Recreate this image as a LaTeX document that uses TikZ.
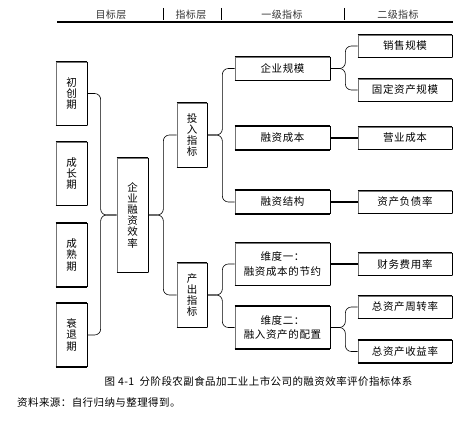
\documentclass[tikz,border=0pt]{standalone}
\usepackage{fontspec}
\setmainfont{Noto Sans CJK SC}

\begin{document}
\begin{tikzpicture}[x=1pt, y=-1pt,
    box/.style={draw=black!55, line width=0.7pt, inner sep=0pt, align=center,
      font=\fontsize{10.5}{11.2}\selectfont\addfontfeature{LetterSpace=6},
      append after command={
        (\tikzlastnode.north west) edge[line width=1.5pt, black] (\tikzlastnode.north east)
        (\tikzlastnode.south west) edge[line width=1.5pt, black] (\tikzlastnode.south east)
        (\tikzlastnode.north east) edge[line width=1pt, black] (\tikzlastnode.south east)}},
    stagebox/.style={box, minimum width=31pt, minimum height=63pt},
    tierbox/.style={box, minimum width=30pt, minimum height=64pt},
    firstbox/.style={box, minimum width=95pt, minimum height=23pt},
    dimbox/.style={box, minimum width=95pt, minimum height=42pt},
    secondbox/.style={box, minimum width=94pt, minimum height=22pt},
    brace/.style={line width=0.6pt, rounded corners=6pt},
    dotlink/.style={line width=1.6pt, dash pattern=on 0.45pt off 0.45pt},
    headtext/.style={font=\fontsize{10}{12}\selectfont\addfontfeature{LetterSpace=4}, text=black!80}]
  \useasboundingbox (0,0) rectangle (468,420);

  % Header row
  \node[headtext] (hgoal) at (111,15) {目标层};
  \node[headtext] (htier) at (191,15) {指标层};
  \node[headtext] (hfirst) at (282,15) {一级指标};
  \node[headtext] (hsecond) at (398,15) {二级指标};
  \draw[line width=1.6pt] (57,22) -- (453,22);
  \foreach \x in {163,221,344}
    \draw[line width=0.6pt] (\x,8) -- (\x,20);

  % Goal layer
  \node[stagebox] (stage1) at (71.5,93.5) {初\\创\\期};
  \node[stagebox] (stage2) at (71.5,173.5) {成\\长\\期};
  \node[stagebox] (stage3) at (71.5,255) {成\\熟\\期};
  \node[stagebox] (stage4) at (71.5,335) {衰\\退\\期};
  \node[box, minimum width=31pt, minimum height=114pt] (goal) at (132.5,215) {企\\业\\融\\资\\效\\率};

  % Indicator layer
  \node[tierbox] (input) at (192,135) {投\\入\\指\\标};
  \node[tierbox] (output) at (192,295) {产\\出\\指\\标};

  % First-level indicators
  \node[firstbox] (scale) at (282.5,68.5) {企业规模};
  \node[firstbox] (cost) at (282.5,138) {融资成本};
  \node[firstbox] (struct) at (282.5,202) {融资结构};
  \node[dimbox] (dimone) at (282.5,264) {维度一：\\[3pt]融资成本的节约};
  \node[dimbox] (dimtwo) at (282.5,327.5) {维度二：\\[3pt]融入资产的配置};

  % Second-level indicators
  \node[secondbox] (sales) at (405,46) {销售规模};
  \node[secondbox] (fixed) at (405,90) {固定资产规模};
  \node[secondbox] (opcost) at (405,138) {营业成本};
  \node[secondbox] (debt) at (405,202) {资产负债率};
  \node[secondbox] (fincost) at (405,264) {财务费用率};
  \node[secondbox] (turnover) at (405,307) {总资产周转率};
  \node[secondbox] (returns) at (405,351.5) {总资产收益率};

  % Brackets
  \draw[brace] (goal.west) -- ++(-16,0) |- (stage1.east);
  \draw[brace] (goal.west) -- ++(-16,0) |- (stage4.east);
  \draw[brace] (goal.east) -- ++(15,0) |- (input.west);
  \draw[brace] (goal.east) -- ++(15,0) |- (output.west);
  \draw[brace] (input.east) -- ++(15,0) |- (scale.west);
  \draw[brace] (input.east) -- ++(15,0) |- (struct.west);
  \draw[brace] (output.east) -- ++(15,0) |- (dimone.west);
  \draw[brace] (output.east) -- ++(15,0) |- (dimtwo.west);
  \draw[brace] (scale.east) -- ++(15,0) |- (sales.west);
  \draw[brace] (scale.east) -- ++(15,0) |- (fixed.west);
  \draw[brace] (dimtwo.east) -- ++(15,0) |- (turnover.west);
  \draw[brace] (dimtwo.east) -- ++(15,0) |- (returns.west);

  % Dotted links
  \draw[dotlink] (cost.east) -- (opcost.west);
  \draw[dotlink] (struct.east) -- (debt.west);
  \draw[dotlink] (dimone.east) -- (fincost.west);

  % Caption and source
  \node[font=\fontsize{10.5}{12}\selectfont\addfontfeature{LetterSpace=4}] (caption) at (258.5,382) {图 4-1\ \ 分阶段农副食品加工业上市公司的融资效率评价指标体系};
  \node[anchor=west, inner sep=0pt, font=\fontsize{10.5}{12}\selectfont\addfontfeature{LetterSpace=4}] (source) at (17,403) {资料来源：自行归纳与整理得到。};
\end{tikzpicture}
\end{document}
